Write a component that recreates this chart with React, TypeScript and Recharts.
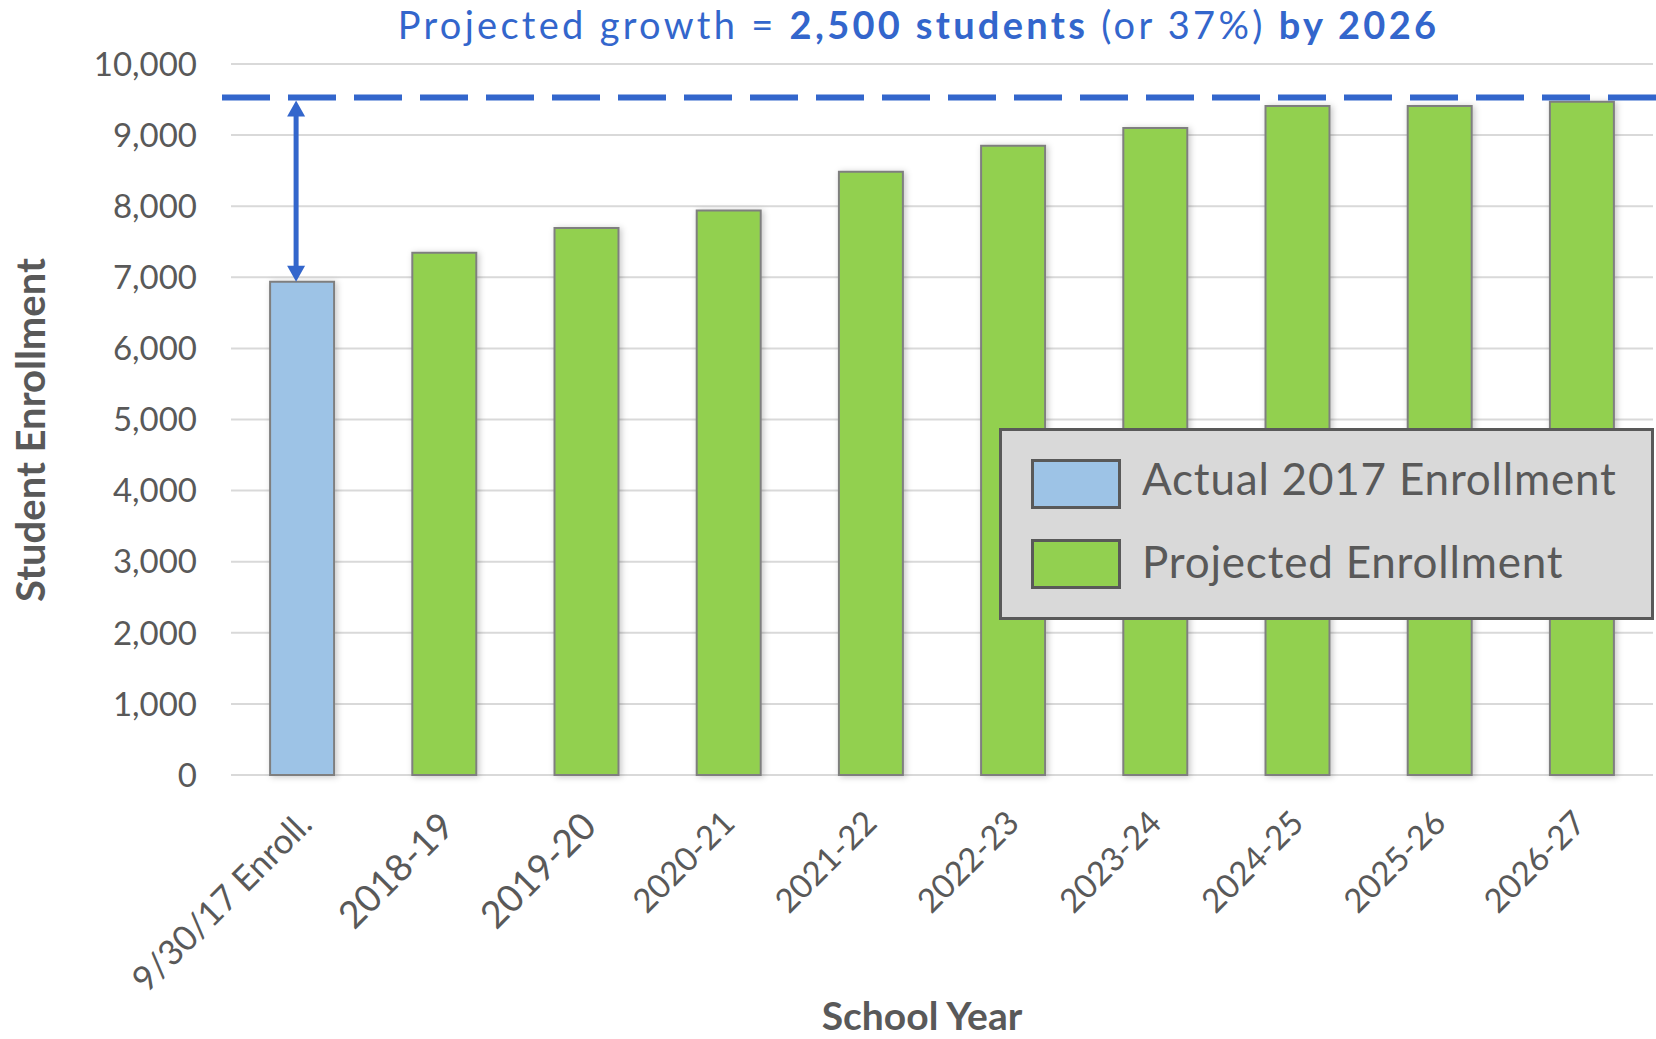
import React from 'react';
import { BarChart, Bar, XAxis, YAxis, CartesianGrid, ReferenceLine, Legend } from 'recharts';

const categories = [
  '9/30/17 Enroll.',
  '2018-19',
  '2019-20',
  '2020-21',
  '2021-22',
  '2022-23',
  '2023-24',
  '2024-25',
  '2025-26',
  '2026-27',
];
const actualEnrollment: (number | null)[] = [6936, null, null, null, null, null, null, null, null, null];
const projectedEnrollment: (number | null)[] = [null, 7344, 7692, 7941, 8484, 8850, 9099, 9409, 9409, 9470];
const yTicks = [0, 1000, 2000, 3000, 4000, 5000, 6000, 7000, 8000, 9000, 10000];
const growthTarget = 9530;

const data = categories.map((year, i) => ({
  year,
  actual: actualEnrollment[i],
  projected: projectedEnrollment[i],
}));

const xTickFontSizes = [34.8, 37.5, 37.5, 33, 33, 33, 33, 33, 33, 33];
const xTickShift = [12, 12, 12, 8, 8, 8, 8, 8, 8, 6];

const GRAY = '#595959';
const BLUE = '#3366CC';
const FONT = 'Lato, "Open Sans", sans-serif';

const XTick = (props: any) => {
  const { x, y, payload, index } = props;
  const fs = xTickFontSizes[index] ?? 33;
  const ax = x + (xTickShift[index] ?? 8);
  const ay = y + 49 + (fs - 32) * 0.85;
  return (
    <text
      x={ax}
      y={ay}
      transform={`rotate(-45, ${ax}, ${ay})`}
      textAnchor="end"
      fontSize={fs}
      fill={GRAY}
      fontFamily={FONT}
    >
      {payload.value}
    </text>
  );
};

const DashedTarget = (p: any) => (
  <line
    x1={p.x1 - 9}
    y1={p.y1}
    x2={p.x2 + 3}
    y2={p.y2}
    stroke={BLUE}
    strokeWidth={6}
    strokeDasharray="48 18"
  />
);

const GrowthArrow = (p: any) => {
  const x = Math.min(p.x1, p.x2) - 6;
  const top = Math.min(p.y1, p.y2) + 3;
  const bottom = Math.max(p.y1, p.y2);
  const hl = 16;
  const hw = 9;
  return (
    <g>
      <line x1={x} y1={top + hl - 1} x2={x} y2={bottom - hl + 1} stroke={BLUE} strokeWidth={5} />
      <polygon points={`${x},${top} ${x - hw},${top + hl} ${x + hw},${top + hl}`} fill={BLUE} />
      <polygon points={`${x},${bottom} ${x - hw},${bottom - hl} ${x + hw},${bottom - hl}`} fill={BLUE} />
    </g>
  );
};

const LegendBox = (props: any) => {
  const payload = props.payload || [];
  return (
    <div
      style={{
        width: 655,
        height: 192,
        boxSizing: 'border-box',
        border: `3px solid ${GRAY}`,
        background: '#D9D9D9',
        position: 'relative',
      }}
    >
      {payload.map((e: any, i: number) => (
        <div
          key={i}
          style={{
            position: 'absolute',
            left: 29,
            top: 28 + i * 80,
            height: 50,
            display: 'flex',
            alignItems: 'center',
          }}
        >
          <div
            style={{
              width: 90,
              height: 50,
              boxSizing: 'border-box',
              border: `3px solid ${GRAY}`,
              background: e.color,
            }}
          />
          <span
            style={{
              marginLeft: 21,
              fontFamily: FONT,
              fontSize: 44,
              letterSpacing: 0.8,
              color: GRAY,
              lineHeight: '50px',
              position: 'relative',
              top: -6 + i * 3,
              whiteSpace: 'nowrap',
            }}
          >
            {e.value}
          </span>
        </div>
      ))}
    </div>
  );
};

export default function App() {
  return (
    <div style={{ position: 'absolute', left: 0, top: 0, width: 1656, height: 1039, background: '#fff' }}>
      <BarChart
        width={1656}
        height={1039}
        data={data}
        margin={{ top: 64, right: 3, bottom: 0, left: 0 }}
        barCategoryGap="27.5%"
      >
        <defs>
          <filter id="barShadow" x="-20%" y="-5%" width="140%" height="110%">
            <feDropShadow dx="2" dy="1" stdDeviation="3" floodColor="#000" floodOpacity="0.22" />
          </filter>
        </defs>
        <CartesianGrid vertical={false} stroke="#D9D9D9" strokeWidth={2} />
        <XAxis
          dataKey="year"
          axisLine={false}
          tickLine={false}
          tickSize={0}
          tickMargin={0}
          interval={0}
          height={264}
          tick={<XTick />}
        />
        <YAxis
          width={231}
          domain={[0, 10000]}
          ticks={yTicks}
          axisLine={false}
          tickLine={false}
          tickSize={0}
          tickMargin={34}
          tickFormatter={(v: number) => v.toLocaleString('en-US')}
          tick={{ fontSize: 33, fill: GRAY, fontFamily: FONT }}
        />
        <Bar
          dataKey="actual"
          name="Actual 2017 Enrollment"
          stackId="a"
          fill="#9DC3E6"
          stroke="#7F7F7F"
          strokeWidth={2}
          filter="url(#barShadow)"
          isAnimationActive={false}
        />
        <Bar
          dataKey="projected"
          name="Projected Enrollment"
          stackId="a"
          fill="#92D050"
          stroke="#7F7F7F"
          strokeWidth={2}
          filter="url(#barShadow)"
          isAnimationActive={false}
        />
        <ReferenceLine y={growthTarget} shape={<DashedTarget />} />
        <ReferenceLine
          segment={[
            { x: categories[0], y: growthTarget },
            { x: categories[0], y: actualEnrollment[0] as number },
          ]}
          shape={<GrowthArrow />}
        />
        <Legend
          layout="horizontal"
          align="center"
          verticalAlign="middle"
          wrapperStyle={{ left: 999, top: 428, width: 655, height: 192 }}
          content={<LegendBox />}
        />
      </BarChart>
      <svg
        width={1656}
        height={1039}
        style={{ position: 'absolute', left: 0, top: 0, pointerEvents: 'none' }}
      >
        <text
          x={918.5}
          y={39.3}
          textAnchor="middle"
          fontFamily={FONT}
          fontSize={38}
          letterSpacing={3.3}
          fill={BLUE}
        >
          Projected growth = <tspan fontWeight="bold">2,500 students</tspan> (or 37%){' '}
          <tspan fontWeight="bold">by 2026</tspan>
        </text>
        <text
          x={45}
          y={430}
          transform="rotate(-90, 45, 430)"
          textAnchor="middle"
          fontFamily={FONT}
          fontWeight="bold"
          fontSize={40}
          fill={GRAY}
        >
          Student Enrollment
        </text>
        <text x={922} y={1030} textAnchor="middle" fontFamily={FONT} fontWeight="bold" fontSize={39} fill={GRAY}>
          School Year
        </text>
      </svg>
    </div>
  );
}
